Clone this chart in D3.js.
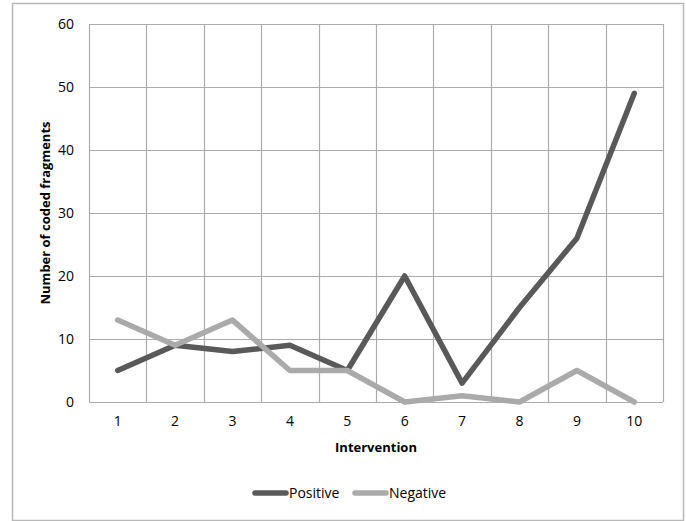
<!DOCTYPE html>
<html><head><meta charset="utf-8">
<script src="https://cdn.jsdelivr.net/npm/d3@7"></script>
<style>body{margin:0;background:#fff;}svg{display:block;font-family:"Open Sans",sans-serif;}</style>
</head><body>
<script>
const categories = ["1","2","3","4","5","6","7","8","9","10"];
const positive = [5, 9, 8, 9, 5, 20, 3, 15, 26, 49];
const negative = [13, 9, 13, 5, 5, 0, 1, 0, 5, 0];
const yTicks = [0, 10, 20, 30, 40, 50, 60];
const seriesNames = ["Positive", "Negative"];
const colors = ["#595959", "#aaaaaa"];

const W = 686, H = 521;
const m = {left: 89, top: 24, right: 663, bottom: 402};
const svg = d3.select("body").append("svg").attr("width", W).attr("height", H);

svg.append("rect").attr("x", 12.5).attr("y", 3.5).attr("width", 671).attr("height", 517)
  .attr("fill", "#fff").attr("stroke", "#b8b8b8").attr("stroke-width", 1.5);

const x = d3.scaleBand().domain(categories).range([m.left, m.right]);
const y = d3.scaleLinear().domain([0, 60]).range([m.bottom, m.top]);

const grid = svg.append("g").attr("stroke", "#ababab").attr("stroke-width", 1.2);
yTicks.forEach(t => grid.append("line").attr("x1", m.left).attr("x2", m.right)
  .attr("y1", Math.round(y(t)) + 0.5).attr("y2", Math.round(y(t)) + 0.5));
categories.forEach(c => grid.append("line").attr("x1", Math.round(x(c)) + 0.5).attr("x2", Math.round(x(c)) + 0.5)
  .attr("y1", m.top).attr("y2", m.bottom));
grid.append("line").attr("x1", m.right + 0.5).attr("x2", m.right + 0.5).attr("y1", m.top).attr("y2", m.bottom);

const yAxis = svg.append("g").attr("transform", `translate(${m.left},0)`)
  .call(d3.axisLeft(y).tickValues(yTicks).tickSize(0).tickPadding(15));
yAxis.select(".domain").remove();
yAxis.selectAll("text").attr("font-size", 14).attr("fill", "#000").attr("font-family", "Open Sans");

const xAxis = svg.append("g").attr("transform", `translate(0,${m.bottom})`)
  .call(d3.axisBottom(x).tickSize(0).tickPadding(14));
xAxis.select(".domain").remove();
xAxis.selectAll("text").attr("font-size", 14).attr("fill", "#000").attr("font-family", "Open Sans");

const line = d3.line().x((d, i) => x(categories[i]) + x.bandwidth() / 2).y(d => y(d));
[positive, negative].forEach((s, k) => {
  svg.append("path").datum(s).attr("d", line).attr("fill", "none")
    .attr("stroke", colors[k]).attr("stroke-width", 5.5)
    .attr("stroke-linejoin", "round").attr("stroke-linecap", "round");
});

svg.append("text").attr("x", (m.left + m.right) / 2).attr("y", 452).attr("text-anchor", "middle")
  .attr("font-size", 13).attr("font-weight", "bold").text("Intervention");
svg.append("text").attr("transform", `translate(50,${(m.top + m.bottom) / 2}) rotate(-90)`)
  .attr("text-anchor", "middle").attr("font-size", 13).attr("font-weight", "bold").text("Number of coded fragments");

const legX = [255, 355];
seriesNames.forEach((n, k) => {
  svg.append("line").attr("x1", legX[k]).attr("x2", legX[k] + 31).attr("y1", 493).attr("y2", 493)
    .attr("stroke", colors[k]).attr("stroke-width", 5.5).attr("stroke-linecap", "round");
  svg.append("text").attr("x", legX[k] + 34).attr("y", 498).attr("font-size", 14).text(n);
});
</script>
</body></html>
